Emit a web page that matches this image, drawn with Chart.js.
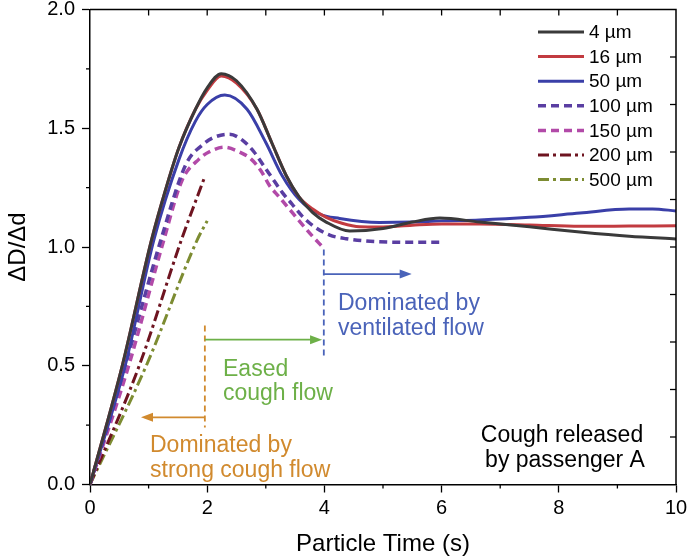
<!DOCTYPE html>
<html><head><meta charset="utf-8">
<script src="https://cdn.jsdelivr.net/npm/chart.js@4.4.1/dist/chart.umd.min.js"></script>
<style>html,body{margin:0;padding:0;background:#fff}#wrap{width:688px;height:560px;position:relative}</style>
</head><body><div id="wrap"><canvas id="c" width="688" height="560"></canvas></div>
<script>
// ---- data ----
const seriesLabels = ['4 µm','16 µm','50 µm','100 µm','150 µm','200 µm','500 µm'];
const t4  = [0,0.55,1.05,1.3,1.52,1.8,2.0,2.24,2.5,2.85,3.1,3.35,3.57,3.8,4.03,4.43,5.0,5.5,5.97,6.65,7.5,8.36,9.2,10];
const v4  = [0,0.5,1.03,1.25,1.42,1.58,1.67,1.73,1.70,1.58,1.44,1.30,1.21,1.145,1.105,1.067,1.078,1.105,1.122,1.105,1.085,1.063,1.045,1.034];
const t16 = [0,0.55,1.05,1.3,1.52,1.8,2.0,2.24,2.5,2.85,3.1,3.35,3.57,3.8,4.03,4.3,4.6,4.94,5.5,6.0,6.65,7.5,8.36,9.2,10];
const v16 = [0,0.5,1.03,1.25,1.42,1.58,1.66,1.72,1.69,1.58,1.44,1.30,1.21,1.16,1.125,1.10,1.085,1.084,1.092,1.097,1.097,1.093,1.087,1.088,1.089];
const t50 = [0,0.6,1.09,1.52,1.8,2.0,2.3,2.68,3.0,3.28,3.57,3.91,4.26,4.94,5.5,6.0,6.65,7.5,8.36,9.2,9.6,10];
const v50 = [0,0.5,1.03,1.37,1.53,1.60,1.64,1.58,1.44,1.30,1.20,1.14,1.12,1.103,1.105,1.11,1.114,1.125,1.143,1.16,1.16,1.152];
const t100 = [0,0.6,1.21,1.64,1.92,2.1,2.38,2.6,2.8,2.97,3.11,3.28,3.45,3.62,3.83,4.09,4.37,4.94,5.5,6.02];
const v100 = [0,0.5,1.03,1.35,1.43,1.46,1.475,1.45,1.40,1.34,1.29,1.23,1.18,1.13,1.085,1.05,1.035,1.022,1.02,1.02];
const t150 = [0,0.66,1.26,1.57,1.86,2.03,2.29,2.55,2.75,2.92,3.06,3.23,3.4,3.57,3.78,3.97];
const v150 = [0,0.5,1.03,1.28,1.37,1.40,1.42,1.40,1.37,1.32,1.26,1.21,1.16,1.11,1.05,1.0];
const t200 = [0,0.84,1.56,1.95];
const v200 = [0,0.5,1.03,1.29];
const t500 = [0,0.96,1.83,2.0];
const v500 = [0,0.5,1.03,1.11];
const xTicks = [0,2,4,6,8,10];
const yTicks = [0.0,0.5,1.0,1.5,2.0];

// ---- styles ----
const FONT = "'Liberation Sans', Arial, sans-serif";
const colors = ['#3a3a3a','#c23b40','#3a3fa8','#5a3ea2','#b24aa8','#6e1420','#7d8c32'];
const dashes = [[],[],[],[8,5],[8,5],[11,4,3,4],[11,4,3,4]];
const widths = [3,3,3,3.5,3.5,3,3];
const tArr = [t4,t16,t50,t100,t150,t200,t500];
const vArr = [v4,v16,v50,v100,v150,v200,v500];

const datasets = seriesLabels.map((lab,i)=>({
  label: lab,
  data: tArr[i].map((t,k)=>({x:t,y:vArr[i][k]})),
  borderColor: colors[i],
  borderWidth: widths[i],
  borderDash: dashes[i],
  pointRadius: 0,
  fill: false,
  cubicInterpolationMode: 'monotone',
  tension: 0.4
}));

function arrow(ctx, x1, y, x2, color){
  const dir = Math.sign(x2-x1);
  ctx.save();
  ctx.strokeStyle=color; ctx.fillStyle=color; ctx.lineWidth=1.8; ctx.setLineDash([]);
  ctx.beginPath(); ctx.moveTo(x1,y); ctx.lineTo(x2-dir*8,y); ctx.stroke();
  ctx.beginPath(); ctx.moveTo(x2,y); ctx.lineTo(x2-dir*12,y-4.5); ctx.lineTo(x2-dir*12,y+4.5); ctx.closePath(); ctx.fill();
  ctx.restore();
}
function vdash(ctx, x, y1, y2, color){
  ctx.save(); ctx.strokeStyle=color; ctx.lineWidth=1.8; ctx.setLineDash([6,4]);
  ctx.beginPath(); ctx.moveTo(x,y1); ctx.lineTo(x,y2); ctx.stroke(); ctx.restore();
}

const extras = {
  id:'extras',
  afterDraw(chart){
    const ctx = chart.ctx, xs = chart.scales.x, ys = chart.scales.y, a = chart.chartArea;
    ctx.save();
    ctx.strokeStyle='#000'; ctx.lineWidth=1.5;
    ctx.beginPath(); ctx.moveTo(a.left,a.top); ctx.lineTo(a.right,a.top); ctx.lineTo(a.right,a.bottom); ctx.stroke();
    ctx.lineWidth=1.3;
    for (let t=1;t<10;t+=2){const x=xs.getPixelForValue(t); ctx.beginPath(); ctx.moveTo(x,a.bottom); ctx.lineTo(x,a.bottom+4); ctx.stroke();}
    for (let v=0.25;v<2;v+=0.5){const y=ys.getPixelForValue(v); ctx.beginPath(); ctx.moveTo(a.left,y); ctx.lineTo(a.left-4,y); ctx.stroke();}
    for (let t=1;t<10;t++){const x=xs.getPixelForValue(t); ctx.beginPath(); ctx.moveTo(x,a.top); ctx.lineTo(x,a.top+6); ctx.stroke();}
    for (let k=1;k<10;k++){const y=ys.getPixelForValue(k*0.2); ctx.beginPath(); ctx.moveTo(a.right,y); ctx.lineTo(a.right-6,y); ctx.stroke();}

    const X = t=>xs.getPixelForValue(t), Y = v=>ys.getPixelForValue(v);
    const orange='#d18a2e', green='#6db048', blue='#4a63b9';
    vdash(ctx, X(1.96), Y(0.67), Y(0.24), orange);
    arrow(ctx, X(1.96), Y(0.283), X(0.87), orange);
    arrow(ctx, X(1.96), Y(0.61), X(3.96), green);
    vdash(ctx, X(3.99), Y(0.99), Y(0.54), blue);
    arrow(ctx, X(3.99), Y(0.886), X(5.49), blue);

    ctx.font = "23px "+FONT; ctx.textBaseline='alphabetic'; ctx.textAlign='left';
    ctx.fillStyle=orange;
    ctx.fillText('Dominated by', 150, 452);
    ctx.fillText('strong cough flow', 150, 477);
    ctx.fillStyle=green;
    ctx.fillText('Eased', 223, 376);
    ctx.fillText('cough flow', 223, 400);
    ctx.fillStyle=blue;
    ctx.fillText('Dominated by', 338, 310);
    ctx.fillText('ventilated flow', 338, 335);
    ctx.fillStyle='#000'; ctx.textAlign='center';
    ctx.fillText('Cough released', 562, 442);
    ctx.fillText('by passenger A', 565, 467);

    ctx.font = "19px "+FONT; ctx.textAlign='left'; ctx.textBaseline='middle';
    chart.data.datasets.forEach((ds,i)=>{
      const y = 32 + i*24.6;
      ctx.save();
      ctx.strokeStyle=ds.borderColor; ctx.lineWidth=ds.borderWidth; ctx.setLineDash(ds.borderDash);
      ctx.beginPath(); ctx.moveTo(538,y); ctx.lineTo(584,y); ctx.stroke();
      ctx.restore();
      ctx.fillStyle='#000';
      ctx.fillText(ds.label, 589, y+1);
    });
    ctx.restore();
  }
};

function zeroPad(s){ s.paddingTop=0; s.paddingBottom=0; s.paddingLeft=0; s.paddingRight=0; }

new Chart(document.getElementById('c'), {
  type:'line',
  data:{datasets},
  options:{
    responsive:false, animation:false, devicePixelRatio:1,
    layout:{padding:{left:0,right:12,top:9.5,bottom:0}},
    plugins:{legend:{display:false}, tooltip:{enabled:false}},
    scales:{
      x:{type:'linear', min:0, max:10,
        afterBuildTicks(s){ s.ticks = xTicks.map(v=>({value:v})); },
        ticks:{font:{family:FONT,size:20}, color:'#000', padding:4, callback:v=>String(v), maxRotation:0},
        grid:{drawOnChartArea:false, drawTicks:true, tickLength:8, tickColor:'#000', tickWidth:1.3},
        border:{display:true, color:'#000', width:1.5},
        title:{display:true, text:'Particle Time (s)', color:'#000', font:{family:FONT,size:24}, padding:{top:0,bottom:1}},
        afterFit(s){ s.height = 75.5; zeroPad(s); }
      },
      y:{type:'linear', min:0, max:2,
        afterBuildTicks(s){ s.ticks = yTicks.map(v=>({value:v})); },
        ticks:{font:{family:FONT,size:20}, color:'#000', padding:7, callback:v=>Number(v).toFixed(1)},
        grid:{drawOnChartArea:false, drawTicks:true, tickLength:8, tickColor:'#000', tickWidth:1.3},
        border:{display:true, color:'#000', width:1.5},
        title:{display:true, text:'ΔD/Δd', color:'#000', font:{family:FONT,size:24}, padding:{top:4,bottom:0}},
        afterFit(s){ s.width = 90; zeroPad(s); }
      }
    }
  },
  plugins:[extras]
});
</script></body></html>
